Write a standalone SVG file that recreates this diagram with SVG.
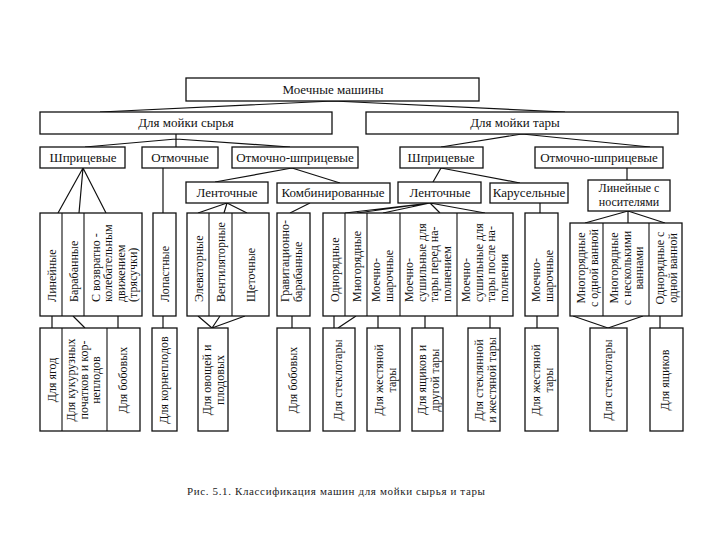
<svg xmlns="http://www.w3.org/2000/svg" width="720" height="540" viewBox="0 0 720 540">
<style>
.b{fill:#fff;stroke:#111;stroke-width:1.3}
.d{stroke:#111;stroke-width:1.1;fill:none}
.c{stroke:#111;stroke-width:1.2;fill:none}
.t{font-family:"Liberation Serif","DejaVu Serif",serif;font-size:13px;fill:#111;text-anchor:middle}
.t2{font-family:"Liberation Serif","DejaVu Serif",serif;font-size:12px;fill:#111;text-anchor:middle}
.v{font-family:"Liberation Serif","DejaVu Serif",serif;font-size:12px;fill:#111}
.s{text-anchor:start}
.m{text-anchor:middle}
.cap{font-family:"Liberation Serif","DejaVu Serif",serif;font-size:11px;fill:#222}
</style>
<rect width="720" height="540" fill="#fff"/>
<g id="connectors">
<path class="c" d="M333,101 L100,112 M333,101 L565,112"/>
<path class="c" d="M176,134 V147 M176,139 L85,147 M176,139 L290,147"/>
<path class="c" d="M522,134 L441,147 M522,134 L650,147"/>
<path class="c" d="M83,168 L58,213 M83,168 L79,213 M83,168 L106,213"/>
<path class="c" d="M163,168 V213"/>
<path class="c" d="M292,168 L215,182 M292,168 L340,183"/>
<path class="c" d="M441,168 L433,182 M441,168 L520,183"/>
<path class="c" d="M627,168 V180"/>
<path class="c" d="M227,203 L198,213 M227,203 L224,213 M227,203 L247,213"/>
<path class="c" d="M310,203 L290,213"/>
<path class="c" d="M430,203 L345,213 M430,203 L357,213 M430,203 L383,213 M430,203 L440,213 M430,203 L485,213"/>
<path class="c" d="M540,203 V213"/>
<path class="c" d="M628,211 L585,223 M628,211 V223 M628,211 L665,223"/>
<path class="c" d="M52,316 V328 M73,316 L85,328 M118,316 V328"/>
<path class="c" d="M163,316 V328"/>
<path class="c" d="M198,316 L212,328 M220,316 L212,328 M245,316 L212,328"/>
<path class="c" d="M292,316 V328"/>
<path class="c" d="M334,316 V328 M356,316 L338,328"/>
<path class="c" d="M378,316 V328 M425,316 V328 M490,316 V328 M537,316 V328"/>
<path class="c" d="M573,316 L608,328 M643,316 L608,328 M660,316 V328"/>
</g>
<g id="n-root"><rect class="b" x="186" y="78" width="293" height="23"/><text class="t" x="333" y="94">Моечные машины</text></g>
<g id="n-raw"><rect class="b" x="40" y="112" width="292" height="22"/><text class="t" x="186" y="127">Для мойки сырья</text></g>
<g id="n-tara"><rect class="b" x="366" y="112" width="312" height="22"/><text class="t" x="515" y="127">Для мойки тары</text></g>
<g id="n-shpr1"><rect class="b" x="40" y="147" width="85" height="21"/><text class="t" x="83" y="162">Шприцевые</text></g>
<g id="n-otm"><rect class="b" x="142" y="147" width="76" height="21"/><text class="t" x="180" y="162">Отмочные</text></g>
<g id="n-otmshpr1"><rect class="b" x="232" y="147" width="126" height="21"/><text class="t" x="295" y="162">Отмочно-шприцевые</text></g>
<g id="n-shpr2"><rect class="b" x="400" y="147" width="83" height="21"/><text class="t" x="441" y="162">Шприцевые</text></g>
<g id="n-otmshpr2"><rect class="b" x="535" y="147" width="128" height="21"/><text class="t" x="599" y="162">Отмочно-шприцевые</text></g>
<g id="n-lent1"><rect class="b" x="186" y="182" width="82" height="21"/><text class="t" x="227" y="197">Ленточные</text></g>
<g id="n-komb"><rect class="b" x="277" y="183" width="113" height="20"/><text class="t" x="333" y="197">Комбинированные</text></g>
<g id="n-lent2"><rect class="b" x="398" y="182" width="83" height="21"/><text class="t" x="440" y="197">Ленточные</text></g>
<g id="n-karus"><rect class="b" x="490" y="183" width="78" height="20"/><text class="t" x="529" y="197">Карусельные</text></g>
<g id="n-linnos"><rect class="b" x="588" y="180" width="82" height="31"/><text class="t2" x="629" y="192">Линейные с</text><text class="t2" x="629" y="206">носителями</text></g>

<g id="n-groupA"><rect class="b" x="40" y="213" width="102" height="103"/><path class="d" d="M62,213 V316 M84,213 V316"/>
<text class="v s" transform="translate(56,302) rotate(-90)">Линейные</text>
<text class="v s" transform="translate(78,302) rotate(-90)">Барабанные</text>
<text class="v s" transform="translate(100,302) rotate(-90)"><tspan x="0" y="0">С возвратно -</tspan><tspan x="0" y="12.3">колебательным</tspan><tspan x="0" y="24.6">движением</tspan><tspan x="0" y="36.9">(трясучки)</tspan></text></g>
<g id="n-lopast"><rect class="b" x="153" y="213" width="23" height="103"/><text class="v s" transform="translate(169,302) rotate(-90)">Лопастные</text></g>
<g id="n-groupB"><rect class="b" x="187" y="213" width="82" height="103"/><path class="d" d="M209,213 V316 M232,213 V316"/>
<text class="v s" transform="translate(202.5,302) rotate(-90)">Элеваторные</text>
<text class="v s" transform="translate(225,302) rotate(-90)">Вентиляторные</text>
<text class="v s" transform="translate(255,302) rotate(-90)">Щеточные</text></g>
<g id="n-grav"><rect class="b" x="277" y="213" width="33" height="103"/><text class="v s" transform="translate(289,302) rotate(-90)"><tspan x="0" y="0">Гравитационно-</tspan><tspan x="0" y="13">барабанные</tspan></text></g>
<g id="n-groupC"><rect class="b" x="323" y="213" width="190" height="103"/><path class="d" d="M345,213 V316 M367,213 V316 M400,213 V316 M457,213 V316"/>
<text class="v s" transform="translate(338.5,302) rotate(-90)">Однорядные</text>
<text class="v s" transform="translate(360.5,302) rotate(-90)">Многорядные</text>
<text class="v s" transform="translate(380,302) rotate(-90)"><tspan x="0" y="0">Моечно-</tspan><tspan x="0" y="12.5">шарочные</tspan></text>
<text class="v s" transform="translate(413,302) rotate(-90)"><tspan x="0" y="0">Моечно-</tspan><tspan x="0" y="12.5">сушильные для</tspan><tspan x="0" y="25">тары перед на-</tspan><tspan x="0" y="37.5">полнением</tspan></text>
<text class="v s" transform="translate(470,302) rotate(-90)"><tspan x="0" y="0">Моечно-</tspan><tspan x="0" y="12.5">сушильные для</tspan><tspan x="0" y="25">тары после на-</tspan><tspan x="0" y="37.5">полнения</tspan></text></g>
<g id="n-moechK"><rect class="b" x="525" y="213" width="33" height="103"/><text class="v s" transform="translate(540,302) rotate(-90)"><tspan x="0" y="0">Моечно-</tspan><tspan x="0" y="12.5">шарочные</tspan></text></g>
<g id="n-groupD"><rect class="b" x="570" y="223" width="112" height="93"/><path class="d" d="M603,223 V316 M649,223 V316"/>
<text class="v m" transform="translate(585,268) rotate(-90)"><tspan x="0" y="0">Многорядные</tspan><tspan x="0" y="12.5">с одной ванной</tspan></text>
<text class="v m" transform="translate(618,268) rotate(-90)"><tspan x="0" y="0">Многорядные</tspan><tspan x="0" y="12.5">с несколькими</tspan><tspan x="0" y="25">ваннами</tspan></text>
<text class="v m" transform="translate(664,268) rotate(-90)"><tspan x="0" y="0">Однорядные с</tspan><tspan x="0" y="12.5">одной ванной</tspan></text></g>

<g id="n-groupE"><rect class="b" x="40" y="328" width="100" height="103"/><path class="d" d="M62,328 V431 M107,328 V431"/>
<text class="v m" transform="translate(56,380) rotate(-90)">Для ягод</text>
<text class="v m" transform="translate(75,380) rotate(-90)"><tspan x="0" y="0">Для кукурузных</tspan><tspan x="0" y="12.5">початков и кор-</tspan><tspan x="0" y="25">неплодов</tspan></text>
<text class="v m" transform="translate(127,380) rotate(-90)">Для бобовых</text></g>
<g id="n-korn"><rect class="b" x="152" y="328" width="25" height="103"/><text class="v m" transform="translate(168,380) rotate(-90)">Для корнеплодов</text></g>
<g id="n-ovosh"><rect class="b" x="198" y="328" width="30" height="103"/><text class="v m" transform="translate(211,380) rotate(-90)"><tspan x="0" y="0">Для овощей и</tspan><tspan x="0" y="12.5">плодовых</tspan></text></g>
<g id="n-bob2"><rect class="b" x="277" y="328" width="33" height="103"/><text class="v m" transform="translate(297,380) rotate(-90)">Для бобовых</text></g>
<g id="n-stekl1"><rect class="b" x="323" y="328" width="32" height="103"/><text class="v m" transform="translate(342,380) rotate(-90)">Для стеклотары</text></g>
<g id="n-zhest1"><rect class="b" x="367" y="328" width="33" height="103"/><text class="v m" transform="translate(383,380) rotate(-90)"><tspan x="0" y="0">Для жестяной</tspan><tspan x="0" y="12.5">тары</tspan></text></g>
<g id="n-yash1"><rect class="b" x="412" y="328" width="31" height="103"/><text class="v m" transform="translate(426,380) rotate(-90)"><tspan x="0" y="0">Для ящиков и</tspan><tspan x="0" y="12.5">другой тары</tspan></text></g>
<g id="n-steklzh"><rect class="b" x="468" y="328" width="32" height="103"/><text class="v m" transform="translate(483,380) rotate(-90)"><tspan x="0" y="0">Для стеклянной</tspan><tspan x="0" y="12.5">и жестяной тары</tspan></text></g>
<g id="n-zhest2"><rect class="b" x="525" y="328" width="33" height="103"/><text class="v m" transform="translate(540,380) rotate(-90)"><tspan x="0" y="0">Для жестяной</tspan><tspan x="0" y="12.5">тары</tspan></text></g>
<g id="n-stekl2"><rect class="b" x="590" y="328" width="37" height="103"/><text class="v m" transform="translate(612,380) rotate(-90)">Для стеклотары</text></g>
<g id="n-yash2"><rect class="b" x="650" y="328" width="33" height="103"/><text class="v m" transform="translate(669,380) rotate(-90)">Для ящиков</text></g>

<text class="cap" x="187" y="495" textLength="298" lengthAdjust="spacing">Рис. 5.1. Классификация машин для мойки сырья и тары</text>
</svg>
